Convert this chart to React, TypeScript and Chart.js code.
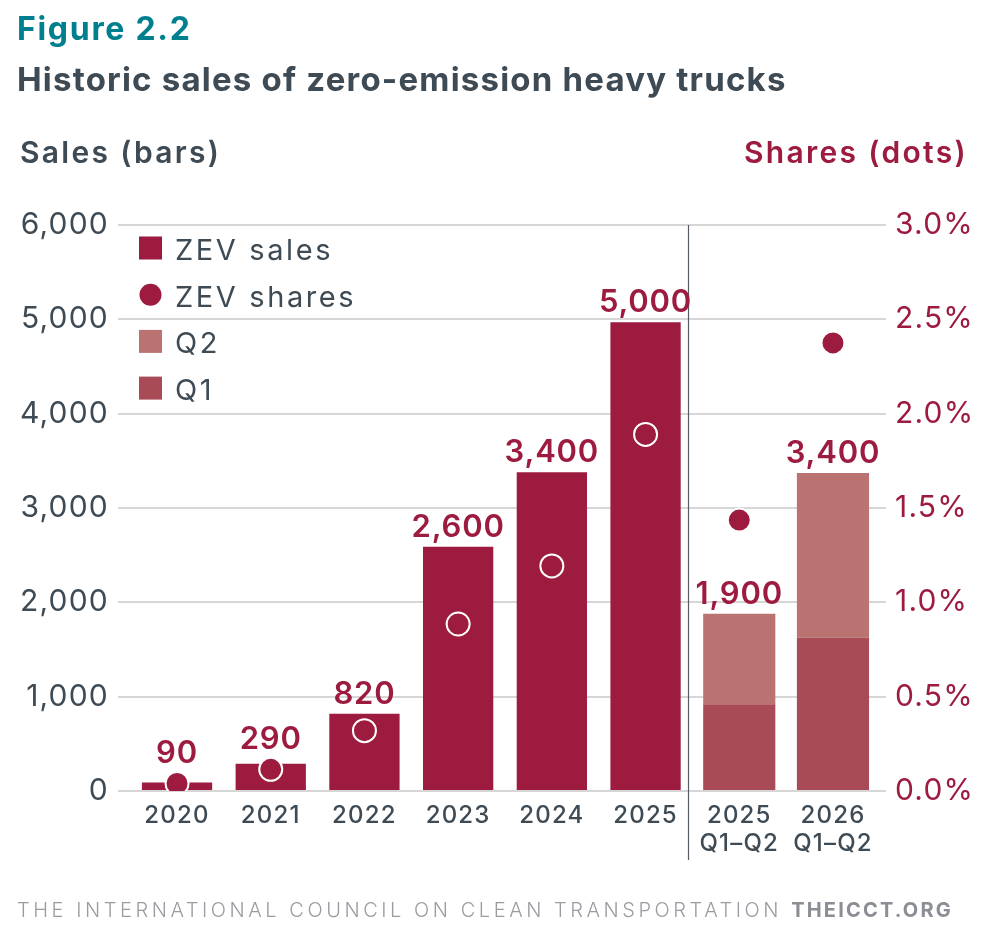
import { useEffect, useRef } from "react";
import { Chart, registerables } from "chart.js";

Chart.register(...registerables);

// ---- data ----
const categories: string[][] = [
  ["2020"], ["2021"], ["2022"], ["2023"], ["2024"], ["2025"],
  ["2025", "Q1–Q2"], ["2026", "Q1–Q2"],
];
const zevSales: (number | null)[] = [90, 290, 820, 2590, 3380, 4970, null, null];
const q1Sales: (number | null)[] = [null, null, null, null, null, null, 920, 1625];
const q2Sales: (number | null)[] = [null, null, null, null, null, null, 960, 1745];
const zevShares: number[] = [0.04, 0.115, 0.32, 0.885, 1.193, 1.89, 1.436, 2.375];
const totalLabels: string[] = ["90", "290", "820", "2,600", "3,400", "5,000", "1,900", "3,400"];
const salesTicks: number[] = [0, 1000, 2000, 3000, 4000, 5000, 6000];
const shareTicks: number[] = [0, 0.5, 1, 1.5, 2, 2.5, 3];
const legendOrder: string[] = ["ZEV sales", "ZEV shares", "Q2", "Q1"];

// ---- styles ----
const CRIMSON = "#9c1b3e";
const Q1_COLOR = "#a84b56";
const Q2_COLOR = "#ba7371";
const DARK = "#3e4a54";
const TEAL = "#00808f";
const GRID = "#d6d6d6";
const FOOT = "#9a9ca1";
const FONT = "Inter";

const toPoints = (arr: (number | null)[]) =>
  arr.map((v, i) => (v == null ? null : { x: i, y: v })).filter((p) => p !== null);

function drawText(ctx: CanvasRenderingContext2D, text: string, x: number, y: number, font: string, color: string, spacing: number, align: CanvasTextAlign = "left") {
  ctx.save();
  ctx.font = font;
  ctx.fillStyle = color;
  ctx.textAlign = align;
  ctx.textBaseline = "alphabetic";
  (ctx as any).letterSpacing = spacing + "px";
  ctx.fillText(text, x, y);
  const w = ctx.measureText(text).width;
  ctx.restore();
  return w;
}

const decorPlugin = {
  id: "decor",
  beforeDraw(chart: any) {
    (chart.ctx as any).letterSpacing = "1.2px";
  },
  afterDatasetsDraw(chart: any) {
    const { ctx, chartArea, scales } = chart;
    const { x, y, y1 } = scales;

    // divider between annual and half-year values
    const dx = Math.round(x.getPixelForValue(5.45)) + 0.5;
    ctx.save();
    ctx.strokeStyle = "#555c63";
    ctx.lineWidth = 1.2;
    ctx.beginPath();
    ctx.moveTo(dx, chartArea.top);
    ctx.lineTo(dx, 860);
    ctx.stroke();
    ctx.restore();

    // bar totals
    categories.forEach((_, i) => {
      const total = (zevSales[i] ?? 0) + (q1Sales[i] ?? 0) + (q2Sales[i] ?? 0);
      const top = y.getPixelForValue(total);
      const dotY = y1.getPixelForValue(zevShares[i]);
      let base = top - 10;
      if (Math.abs(dotY - top) < 14) base = Math.min(base, dotY - 20);
      drawText(ctx, totalLabels[i], x.getPixelForValue(i), base, `600 31px ${FONT}`, CRIMSON, 0.8, "center");
    });

    // legend
    const lx = chartArea.left + 21;
    legendOrder.forEach((label, k) => {
      const ds = chart.data.datasets.find((d: any) => d.label === label);
      const cy = chartArea.top + 23 + k * 46.7;
      ctx.save();
      if (ds.type === "line") {
        ctx.fillStyle = ds.pointBackgroundColor;
        ctx.beginPath();
        ctx.arc(lx + 11.5, cy, 11, 0, Math.PI * 2);
        ctx.fill();
      } else {
        ctx.fillStyle = ds.backgroundColor;
        ctx.fillRect(lx, cy - 11.5, 23, 23);
      }
      ctx.restore();
      drawText(ctx, label, lx + 36, cy + 12, `400 29px ${FONT}`, DARK, 2.6);
    });
  },
  afterDraw(chart: any) {
    const ctx = chart.ctx;
    drawText(ctx, "Figure 2.2", 17, 40, `700 32px ${FONT}`, TEAL, 1.7);
    drawText(ctx, "Historic sales of zero-emission heavy trucks", 17, 91, `700 33px ${FONT}`, DARK, 1.2);
    drawText(ctx, "Sales (bars)", 20, 163, `600 30px ${FONT}`, DARK, 2.3);
    drawText(ctx, "Shares (dots)", 968, 163, `600 30px ${FONT}`, CRIMSON, 2.3, "right");
    const w = drawText(ctx, "THE INTERNATIONAL COUNCIL ON CLEAN TRANSPORTATION ", 17, 917, `300 20px ${FONT}`, FOOT, 3.55);
    drawText(ctx, "THEICCT.ORG", 17 + w, 917, `700 20px ${FONT}`, "#8b8e94", 2.2);
  },
};

export default function App() {
  const ref = useRef<HTMLCanvasElement | null>(null);

  useEffect(() => {
    document.body.style.margin = "0";
    const canvas = ref.current;
    if (!canvas) return;
    const chart = new Chart(canvas, {
      type: "bar",
      data: {
        datasets: [
          {
            type: "line",
            label: "ZEV shares",
            data: zevShares.map((v, i) => ({ x: i, y: v })),
            yAxisID: "y1",
            showLine: false,
            pointRadius: 11.5,
            pointHoverRadius: 11.5,
            pointBackgroundColor: CRIMSON,
            pointBorderColor: "#ffffff",
            pointBorderWidth: 2,
            order: 0,
          } as any,
          {
            type: "bar",
            label: "ZEV sales",
            data: toPoints(zevSales) as any,
            backgroundColor: CRIMSON,
            yAxisID: "y",
            grouped: false,
            barPercentage: 0.75,
            categoryPercentage: 1,
            order: 1,
          },
          {
            type: "bar",
            label: "Q1",
            data: toPoints(q1Sales) as any,
            backgroundColor: Q1_COLOR,
            yAxisID: "y",
            grouped: false,
            barPercentage: 0.77,
            categoryPercentage: 1,
            order: 1,
          },
          {
            type: "bar",
            label: "Q2",
            data: toPoints(q2Sales) as any,
            backgroundColor: Q2_COLOR,
            yAxisID: "y",
            grouped: false,
            barPercentage: 0.77,
            categoryPercentage: 1,
            order: 1,
          },
        ],
      },
      options: {
        responsive: false,
        maintainAspectRatio: false,
        animation: false,
        events: [],
        layout: { padding: { top: 225, left: 0, right: 0, bottom: 0 } },
        plugins: { legend: { display: false }, tooltip: { enabled: false } },
        scales: {
          x: {
            type: "linear",
            offset: false,
            min: -0.63,
            max: 7.566,
            afterBuildTicks: (s: any) => {
              s.ticks = categories.map((_, i) => ({ value: i }));
            },
            afterFit: (s: any) => {
              s.height = 138;
            },
            ticks: {
              autoSkip: false,
              maxRotation: 0,
              padding: 11,
              color: DARK,
              font: { family: FONT, size: 24, weight: "500", lineHeight: 1.15 },
              callback: (v: any) => categories[v],
            },
            grid: { display: false, drawTicks: false },
            border: { display: false },
          },
          y: {
            type: "linear",
            position: "left",
            min: 0,
            max: 6000,
            stacked: true,
            afterBuildTicks: (s: any) => {
              s.ticks = salesTicks.map((v) => ({ value: v }));
            },
            afterFit: (s: any) => {
              s.width = 118;
            },
            ticks: {
              padding: 9,
              color: DARK,
              font: { family: FONT, size: 30, weight: "400" },
              callback: (v: any) => Number(v).toLocaleString("en-US"),
            },
            grid: { color: GRID, lineWidth: 2, drawTicks: false },
            border: { display: false },
          },
          y1: {
            type: "linear",
            position: "right",
            min: 0,
            max: 3,
            afterBuildTicks: (s: any) => {
              s.ticks = shareTicks.map((v) => ({ value: v }));
            },
            afterFit: (s: any) => {
              s.width = 103;
            },
            ticks: {
              padding: 9,
              color: CRIMSON,
              font: { family: FONT, size: 30, weight: "400" },
              callback: (v: any) => Number(v).toFixed(1) + "%",
            },
            grid: { display: false, drawTicks: false },
            border: { display: false },
          },
        },
      },
      plugins: [decorPlugin],
    });
    return () => chart.destroy();
  }, []);

  return (
    <div style={{ width: 989, height: 929, background: "#ffffff" }}>
      <canvas ref={ref} width={989} height={929} style={{ display: "block" }} />
    </div>
  );
}
